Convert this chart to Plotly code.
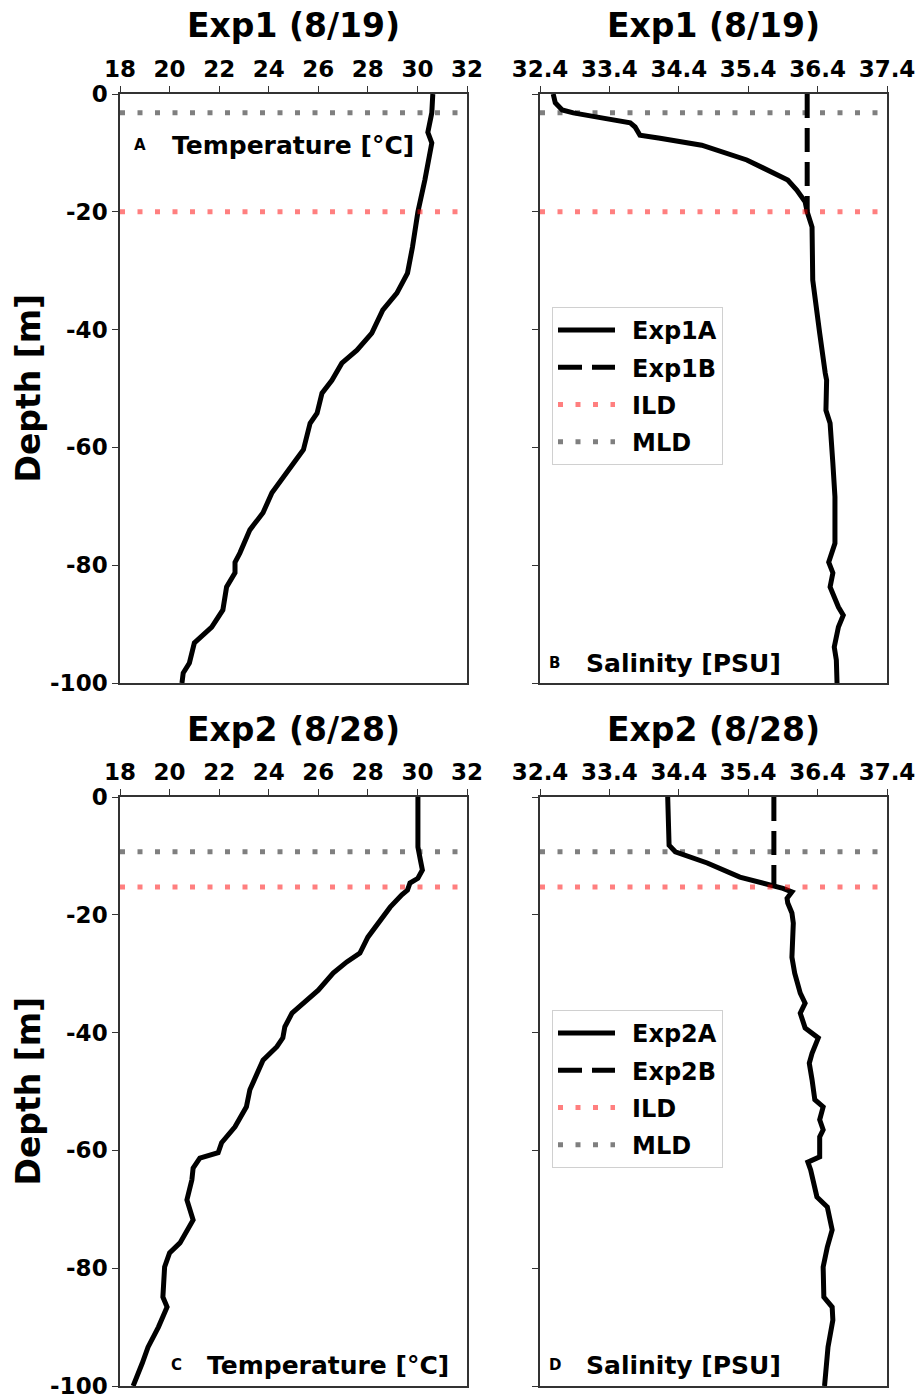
import plotly.graph_objects as go

# ---------------- data ----------------
# Exp1 (8/19) temperature profile
depth_t1 = [0, -3.2, -6.5, -8.3, -14.6, -20, -26, -30.4, -33.8, -36.7, -40.6, -43.5, -45.7,
            -48.6, -50.8, -54.2, -55.9, -60.4, -62.7, -65.5, -67.7, -71.1, -74, -77.9, -79.5,
            -81.3, -83.7, -87.6, -90.5, -93.2, -96.6, -98.3, -100]
temp_1 = [30.62, 30.58, 30.42, 30.58, 30.3, 30.02, 29.8, 29.6, 29.17, 28.6, 28.16, 27.56, 26.95,
          26.55, 26.15, 25.95, 25.67, 25.4, 25.0, 24.53, 24.13, 23.77, 23.24, 22.84, 22.64,
          22.64, 22.3, 22.15, 21.7, 21.0, 20.8, 20.55, 20.5]

# Exp1 salinity profiles
depth_s1 = [0, -1.5, -2.7, -3.2, -4.1, -4.9, -5.6, -7.0, -7.5, -8.1, -8.7, -11.2, -14.6, -16.3,
            -18.3, -20, -22.6, -31.6, -36.2, -40.6, -47.4, -48.6, -53.7, -55.9, -62.7, -68.4,
            -76.3, -79.5, -81.3, -83.7, -87.1, -88.5, -90.5, -93.9, -96.1, -100]
sal_1a = [32.59, 32.62, 32.72, 32.88, 33.31, 33.7, 33.77, 33.84, 34.13, 34.46, 34.73, 35.38,
          35.97, 36.1, 36.22, 36.25, 36.32, 36.33, 36.39, 36.43, 36.51, 36.53, 36.52, 36.58,
          36.62, 36.65, 36.65, 36.56, 36.62, 36.58, 36.7, 36.77, 36.7, 36.64, 36.67, 36.68]
depth_s1b = [0, -20]
sal_1b = [36.25, 36.25]

# Exp2 (8/28) temperature profile
depth_t2 = [0, -8.5, -10.7, -12.4, -13.8, -14.6, -15.8, -16.6, -18.7, -20.4, -22.1, -23.8, -26.5,
            -28, -29.9, -32.8, -36.7, -39, -40.9, -42.4, -44.7, -48, -49.7, -52.6, -56, -58.7,
            -60.4, -61.3, -63, -65, -68.4, -71.8, -75.7, -77.4, -79.8, -84.9, -86.6, -90, -93.4,
            -96.1, -100]
temp_2 = [30.02, 30.02, 30.12, 30.2, 30.02, 29.7, 29.6, 29.37, 28.9, 28.6, 28.3, 28.0, 27.68,
          27.15, 26.6, 26.0, 24.94, 24.65, 24.57, 24.33, 23.77, 23.45, 23.24, 23.1, 22.64, 22.1,
          21.96, 21.22, 20.95, 20.9, 20.7, 20.95, 20.42, 20.0, 19.8, 19.73, 19.9, 19.55, 19.13,
          18.9, 18.53]

# Exp2 salinity profiles
depth_s2 = [0, -8.2, -9.3, -11.2, -13.6, -14.6, -15.5, -16.1, -17.2, -18, -19.7, -21.4, -27.2,
            -29.9, -33.3, -35, -36.7, -39.2, -40.9, -43.5, -45.2, -48, -51.4, -52.6, -54.8,
            -56.5, -57.7, -61.1, -62, -63.3, -67.9, -69.6, -73.5, -76.4, -79.8, -84.9, -86.6,
            -88.8, -93.4, -100]
sal_2a = [34.24, 34.26, 34.35, 34.81, 35.28, 35.61, 35.9, 36.03, 35.96, 35.97, 36.03, 36.05,
          36.03, 36.07, 36.15, 36.22, 36.15, 36.22, 36.41, 36.32, 36.28, 36.32, 36.36, 36.48,
          36.43, 36.48, 36.43, 36.43, 36.26, 36.3, 36.39, 36.54, 36.61, 36.54, 36.48, 36.49,
          36.61, 36.62, 36.55, 36.5]
depth_s2b = [0, -15.3]
sal_2b = [35.77, 35.77]

# layer depths [m]
ild = {"Exp1": -20.0, "Exp2": -15.3}
mld = {"Exp1": -3.2, "Exp2": -9.3}

# axes
temp_range = [18, 32]
sal_range = [32.4, 37.4]
depth_range = [-100, 0]
temp_ticks = [18, 20, 22, 24, 26, 28, 30, 32]
sal_ticks = [32.4, 33.4, 34.4, 35.4, 36.4, 37.4]
sal_ticktext = ["32.4", "33.4", "34.4", "35.4", "36.4", "37.4"]
depth_ticks = [0, -20, -40, -60, -80, -100]
depth_ticktext = ["0", "-20", "-40", "-60", "-80", "-100"]

# ---------------- figure ----------------
W, H = 919, 1397
FONT = "DejaVu Sans"
ILD_COLOR = "rgba(255,0,0,0.5)"
MLD_COLOR = "rgba(0,0,0,0.5)"
DOT = "5px,12.5px"
PAD = "\u2002"  # spacing between legend sample and label


def fx(p):
    return p / W


def fy(p):
    return 1 - p / H


fig = go.Figure()


def profile(x, y, xa, ya, name=None, dash="solid", legend=None):
    fig.add_trace(go.Scatter(
        x=x, y=y, mode="lines", xaxis=xa, yaxis=ya,
        name=PAD + name if name else None,
        line=dict(color="black", width=5, dash=dash),
        showlegend=legend is not None, legend=legend or "legend",
        legendgroup=(name or "") + (legend or ""),
    ))


def layer_line(depth, xr, xa, ya, color, name=None, legend=None):
    fig.add_trace(go.Scatter(
        x=xr, y=[depth, depth], mode="lines", xaxis=xa, yaxis=ya,
        name=PAD + name if name else None,
        line=dict(color=color, width=5, dash=DOT),
        showlegend=legend is not None, legend=legend or "legend",
        legendgroup=(name or "") + (legend or ""),
    ))


# Panel A
profile(temp_1, depth_t1, "x", "y")
layer_line(ild["Exp1"], temp_range, "x", "y", ILD_COLOR)
layer_line(mld["Exp1"], temp_range, "x", "y", MLD_COLOR)
# Panel B
profile(sal_1a, depth_s1, "x2", "y2", "Exp1A", legend="legend")
profile(sal_1b, depth_s1b, "x2", "y2", "Exp1B", dash="24px,10px", legend="legend")
layer_line(ild["Exp1"], sal_range, "x2", "y2", ILD_COLOR, "ILD", legend="legend")
layer_line(mld["Exp1"], sal_range, "x2", "y2", MLD_COLOR, "MLD", legend="legend")
# Panel C
profile(temp_2, depth_t2, "x3", "y3")
layer_line(ild["Exp2"], temp_range, "x3", "y3", ILD_COLOR)
layer_line(mld["Exp2"], temp_range, "x3", "y3", MLD_COLOR)
# Panel D
profile(sal_2a, depth_s2, "x4", "y4", "Exp2A", legend="legend2")
profile(sal_2b, depth_s2b, "x4", "y4", "Exp2B", dash="24px,10px", legend="legend2")
layer_line(ild["Exp2"], sal_range, "x4", "y4", ILD_COLOR, "ILD", legend="legend2")
layer_line(mld["Exp2"], sal_range, "x4", "y4", MLD_COLOR, "MLD", legend="legend2")

LEFT = [fx(120), fx(467)]
RIGHT = [fx(540), fx(887)]
TOP = [fy(683), fy(94)]
BOTTOM = [fy(1386), fy(797)]

tickfont = dict(family=FONT, size=23, color="black", weight="bold")
axis_common = dict(showline=True, mirror=True, linecolor="#333333", linewidth=1.5,
                   ticks="outside", ticklen=6, tickwidth=1.2, tickcolor="#333333",
                   showgrid=False, zeroline=False, tickfont=tickfont, fixedrange=True,
                   automargin=False, ticklabeloverflow="allow")


def xaxis(domain, rng, vals, text, anchor):
    return dict(domain=domain, range=rng, tickvals=vals, ticktext=text, side="top",
                anchor=anchor, **axis_common)


def yaxis(domain, anchor, labels):
    return dict(domain=domain, range=depth_range, tickvals=depth_ticks,
                ticktext=depth_ticktext, showticklabels=labels, anchor=anchor, **axis_common)


temp_text = [str(v) for v in temp_ticks]

layout = dict(
    width=W, height=H, margin=dict(l=0, r=0, t=0, b=0, pad=0, autoexpand=False),
    paper_bgcolor="white", plot_bgcolor="white",
    font=dict(family=FONT, color="black"),
    xaxis=xaxis(LEFT, temp_range, temp_ticks, temp_text, "y"),
    yaxis=yaxis(TOP, "x", True),
    xaxis2=xaxis(RIGHT, sal_range, sal_ticks, sal_ticktext, "y2"),
    yaxis2=yaxis(TOP, "x2", False),
    xaxis3=xaxis(LEFT, temp_range, temp_ticks, temp_text, "y3"),
    yaxis3=yaxis(BOTTOM, "x3", True),
    xaxis4=xaxis(RIGHT, sal_range, sal_ticks, sal_ticktext, "y4"),
    yaxis4=yaxis(BOTTOM, "x4", False),
)

legend_style = dict(
    font=dict(family=FONT, size=24, color="black", weight="bold"),
    bgcolor="rgba(255,255,255,0.8)", bordercolor="#d0d0d0", borderwidth=1,
    xanchor="left", yanchor="top", itemwidth=57, tracegroupgap=3,
    itemclick=False, itemdoubleclick=False,
)
layout["legend"] = dict(x=fx(552), y=fy(307), **legend_style)
layout["legend2"] = dict(x=fx(552), y=fy(1010), **legend_style)

fig.update_layout(**layout)

# titles, axis labels and panel labels
ann = []
for yc, title in [(25, "Exp1 (8/19)"), (729, "Exp2 (8/28)")]:
    for xc in [293.5, 713.5]:
        ann.append(dict(x=fx(xc), y=fy(yc), text=title,
                        font=dict(size=33, weight="bold")))
for yc in [388.5, 1091.5]:
    ann.append(dict(x=fx(28), y=fy(yc), text="Depth [m]", textangle=-90,
                    font=dict(size=33, weight="bold")))

panel_labels = [
    (140, 145, "A", 170, "Temperature [°C]"),
    (554, 663, "B", 584, "Salinity [PSU]"),
    (176, 1365, "C", 205, "Temperature [°C]"),
    (555, 1365, "D", 584, "Salinity [PSU]"),
]
for lx, ly, letter, tx, text in panel_labels:
    ann.append(dict(x=fx(lx), y=fy(ly), text=letter, font=dict(size=15, weight="bold")))
    ann.append(dict(x=fx(tx), y=fy(ly), text=text, xanchor="left",
                    font=dict(size=25, weight="bold")))

for a in ann:
    a.update(xref="paper", yref="paper", showarrow=False)
    a.setdefault("xanchor", "center")
    a["yanchor"] = "middle"
    a["font"].update(family=FONT, color="black")

fig.update_layout(annotations=ann)

fig.write_html("out.html")
